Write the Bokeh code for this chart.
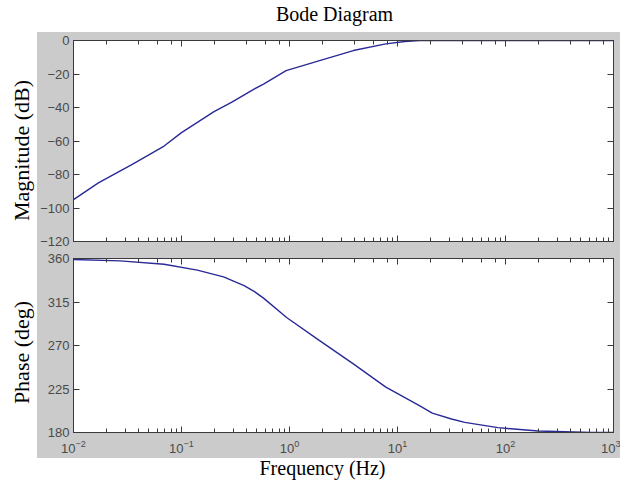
import math
from bokeh.plotting import figure
from bokeh.layouts import column, row
from bokeh.models import (Range1d, FixedTicker, LogAxis, LinearAxis, LogTicker,
                          CustomJSTickFormatter)
from bokeh.core.properties import value
from bokeh.embed import file_html
from bokeh.resources import INLINE

# ---- data ----
mag_freq = [0.01, 0.017, 0.035, 0.069, 0.1, 0.2, 0.29, 0.47, 0.575, 0.93,
            1.9, 3.9, 7.8, 11.7, 16, 30, 100, 1000]
mag_db = [-95, -85, -74, -63, -55, -42.5, -37, -29, -26, -18,
          -12, -6, -2, -0.6, -0.1, 0, 0, 0]

phase_freq = [0.01, 0.027, 0.069, 0.14, 0.245, 0.38, 0.47, 0.575, 0.94,
              1.9, 3.9, 7.8, 15.8, 21, 31.6, 42, 85, 200, 620, 1000]
phase_deg = [359, 357.5, 354, 348, 341, 332, 326, 319, 299,
             275, 251, 227, 208, 200, 194, 190.5, 185, 181.5, 180, 180]

mag_ticks = [-120, -100, -80, -60, -40, -20, 0]
phase_ticks = [180, 225, 270, 315, 360]

title_text = "Bode Diagram"
mag_label = "Magnitude (dB)"
phase_label = "Phase (deg)"
x_label = "Frequency (Hz)"

# ---- style ----
GRAY = "#cbcbcb"
AX = "#3a3a3a"
TICKLAB = "#4a4a4a"
LINE = "#2a2a96"
SERIF = "Liberation Serif"
SANS = "Liberation Sans"

W_TOTAL = 625
W_LAB = 37
W_GRAY = 583
W_PAD = 5
xr = Range1d(0.01, 1000)


def style_axis(ax, labels=True, minor=True):
    ax.axis_line_color = AX
    ax.major_tick_line_color = AX
    ax.minor_tick_line_color = AX
    ax.major_tick_in = 6
    ax.major_tick_out = 0
    ax.minor_tick_in = 4 if minor else 0
    ax.minor_tick_out = 0
    ax.major_label_text_font = SANS
    ax.major_label_text_font_size = "13px"
    ax.major_label_text_color = TICKLAB
    if not labels:
        ax.formatter = CustomJSTickFormatter(code="return '';")
        ax.major_label_standoff = 0


def panel(yr, ticks, height, mb_top, mb_bottom, xlabels):
    p = figure(width=W_GRAY, height=height, x_axis_type="log", x_range=xr,
               y_range=yr, output_backend="svg", toolbar_location=None,
               min_border_left=31, min_border_right=7,
               min_border_top=mb_top, min_border_bottom=mb_bottom)
    p.border_fill_color = GRAY
    p.background_fill_color = "white"
    p.outline_line_color = AX
    p.grid.visible = False
    p.yaxis.ticker = FixedTicker(ticks=ticks)
    style_axis(p.xaxis[0], labels=xlabels, minor=True)
    if xlabels:
        p.xaxis[0].major_label_standoff = 7
    style_axis(p.yaxis[0], labels=True, minor=False)
    p.yaxis[0].major_label_standoff = 4
    top = LogAxis(ticker=LogTicker())
    style_axis(top, labels=False, minor=True)
    p.add_layout(top, "above")
    right = LinearAxis(ticker=FixedTicker(ticks=ticks))
    style_axis(right, labels=False, minor=False)
    p.add_layout(right, "right")
    return p


p_mag = panel(Range1d(-120, 0), mag_ticks, 217, 8, 8, False)
p_mag.line(mag_freq, mag_db, line_color=LINE, line_width=1.4)

p_ph = panel(Range1d(180, 360), phase_ticks, 209, 9, 26, True)
p_ph.line(phase_freq, phase_deg, line_color=LINE, line_width=1.4)


def blank(w, h):
    f = figure(width=w, height=h, x_range=Range1d(0, w), y_range=Range1d(0, h),
               output_backend="svg", toolbar_location=None,
               min_border=0)
    f.axis.visible = False
    f.grid.visible = False
    f.outline_line_color = None
    f.border_fill_color = "white"
    return f


t_fig = blank(W_TOTAL, 32)
t_fig.text(x=[334], y=[32 - 13], text=[title_text],
           text_font=value(SERIF), text_font_size="20px", text_color="black",
           text_align="center", text_baseline="middle")

l_fig = blank(W_LAB, 426)
l_fig.text(x=[21, 21], y=[426 - (150 - 32), 426 - (352 - 32)],
           text=[mag_label, phase_label],
           text_font=value(SERIF), text_font_size="22px", text_color="black",
           text_align="center", text_baseline="middle", angle=math.pi / 2)

r_fig = blank(W_PAD, 426)

x_fig = blank(W_TOTAL, 28)
x_fig.text(x=[322], y=[28 - 9], text=[x_label],
           text_font=value(SERIF), text_font_size="20px", text_color="black",
           text_align="center", text_baseline="middle")

plots = column(p_mag, p_ph, spacing=0, styles={"background-color": GRAY})
layout = column(t_fig, row(l_fig, plots, r_fig, spacing=0), x_fig, spacing=0)

open("out.html", "w").write(file_html(layout, INLINE))
